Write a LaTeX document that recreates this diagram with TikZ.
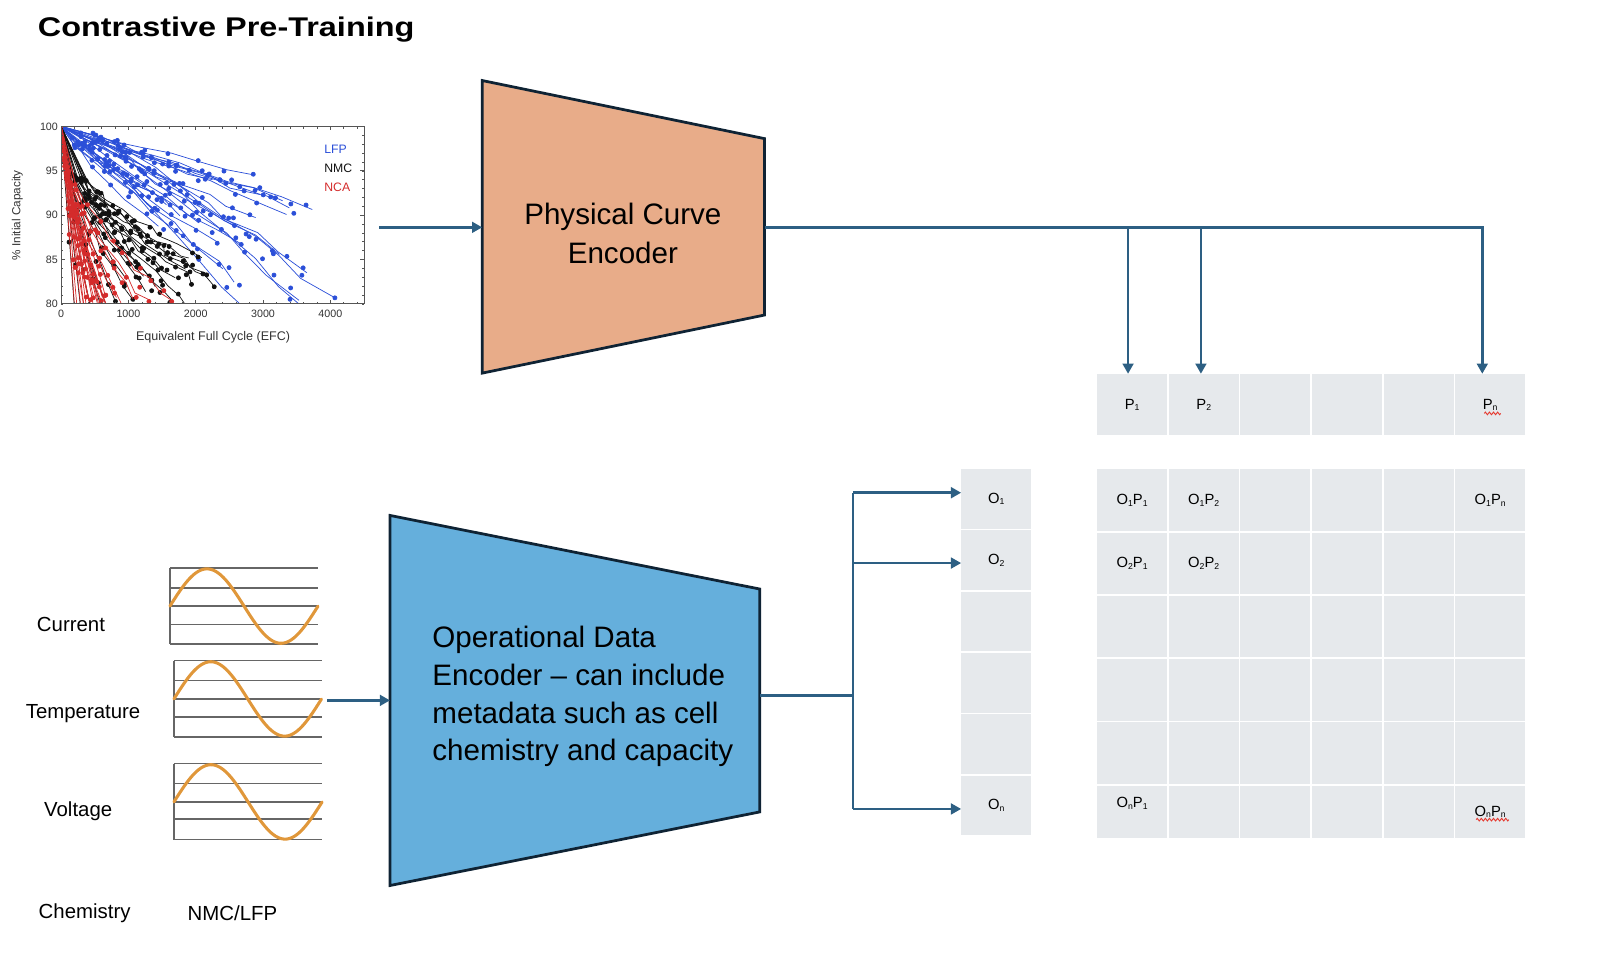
\documentclass[tikz,border=0pt]{standalone}
\usepackage{fontspec}
\setmainfont{Liberation Sans}
\usepackage{graphicx}
\usetikzlibrary{arrows.meta,decorations.pathmorphing}
\definecolor{arrowc}{HTML}{2D5F83}
\definecolor{encb}{HTML}{0F2334}
\definecolor{pcefill}{HTML}{E8AC89}
\definecolor{opefill}{HTML}{65AFDC}
\definecolor{cellg}{HTML}{E6E9EC}
\definecolor{wavec}{HTML}{E0973A}
\definecolor{gridc}{HTML}{666666}
\definecolor{lfpc}{HTML}{2B4FD8}
\definecolor{nmcc}{HTML}{111111}
\definecolor{ncac}{HTML}{D42B2B}
\definecolor{sqc}{HTML}{E5392F}
\definecolor{axc}{HTML}{555555}
\newcommand\fsz[1]{\fontsize{#1}{#1}\selectfont}
\newcommand\sbs[1]{\raisebox{-0.1em}{\fontsize{8.5}{8.5}\selectfont #1}}
\begin{document}
\begin{tikzpicture}[x=1pt,y=-1pt,
  arr/.style={draw=arrowc,line width=2.6pt,-{Triangle[length=10pt,width=10.5pt]}},
  conn/.style={draw=arrowc,line width=2.6pt},
  enc/.style={draw=encb,line width=2.7pt,line join=miter},
  cell/.style={fill=cellg,inner sep=0pt,minimum width=68.5pt,minimum height=60.3pt},
  ocell/.style={cell,minimum width=68.6pt,minimum height=58.5pt},
  celltxt/.style={inner sep=0pt,font=\fsz{14.5}},
  sidelbl/.style={anchor=base,inner sep=0pt,font=\fsz{20}},
  enctxt/.style={anchor=base,inner sep=0pt,font=\fsz{29}},
  ticklbl/.style={inner sep=0pt,font=\fsz{10.5},text=axc!60!black},
  gridl/.style={draw=gridc,line width=1.7pt},
  wave/.style={draw=wavec,line width=3pt,line cap=round},
  squig/.style={draw=sqc,line width=0.9pt,decorate,decoration={zigzag,segment length=4pt,amplitude=1.3pt}},
  dotline/.style={line width=0.7pt,mark=*,mark size=2pt,mark options={solid,fill=#1,draw=#1},draw=#1}
]
\useasboundingbox (0,0) rectangle (1567.5,949.5);

% title
\node[anchor=base west,inner sep=0pt] (title) at (37,35.5)
  {\scalebox{1.2}[1]{\fsz{26.5}\bfseries Contrastive Pre-Training}};

% ---------------- capacity plot ----------------
\begin{scope}[shift={(60,298)},x=0.066pt,y=8.7pt]
  \begin{scope}
    \clip (0,0) rectangle (4500,20);
    \pgfmathsetseed{11}
    \foreach \E/\C/\p/\n in {2800/94.4/1/7,3635/90.9/1/9,3385/91.1/1/8,3360/90.3/0.95/8,
      3200/91.9/1/8,2950/92.5/1/7,2820/90.0/0.9/8,4010/80.8/1.3/10,3610/83.8/1.2/9,
      3470/80.4/1.3/9,2760/79/1.2/8,3735/79/1.4/9,3210/85.8/1.1/8,2620/82.3/1.1/8,
      1485/88.6/0.8/6,2050/89.3/0.9/7,2300/86.8/0.9/7,1800/90/0.9/6,2425/84.1/0.9/7,
      2700/86.4/1/7,1600/91.3/0.8/6,1250/93.5/0.8/5,2300/93.8/1/6,1900/92.5/1/6,
      2550/88.6/1/7,1400/90.8/0.8/6}{
      \draw[dotline=lfpc] (0,20) -- plot[domain=0.15:1,samples=\n,variable=\t]
        ({\E*\t+0.03*\E*rand},{20-(100-\C)*(\t^\p)+0.3*rand});
    }
    \foreach \E/\C/\p/\n in {2350/82.2/0.55/12,2145/83.3/0.55/11,2075/85.3/0.5/10,
      1900/80/0.6/10,1650/80/0.6/9,1785/84.1/0.55/10,1885/85/0.5/10,1085/80.4/0.6/7,
      825/80/0.7/6,700/79/0.7/5,600/79/0.8/5,450/79/0.8/4,300/79/0.9/4,200/79/0.9/3,
      1450/82/0.6/8,1300/81.5/0.6/8,1200/83/0.6/7,2000/82.5/0.55/10,1550/84/0.55/9,
      950/82.5/0.65/6,1700/82.8/0.55/9}{
      \draw[dotline=nmcc] (0,20) -- plot[domain=0.15:1,samples=\n,variable=\t]
        ({\E*\t+0.04*\E*rand},{20-(100-\C)*(\t^\p)+0.35*rand});
    }
    \foreach \E/\C/\p/\n in {1635/80/0.6/9,1285/80.2/0.55/8,1100/80.5/0.6/7,900/80/0.6/6,
      750/79/0.6/6,700/79/0.7/6,650/79/0.7/5,600/79/0.75/5,550/79/0.8/5,500/79/0.8/5,
      450/79/0.85/5,400/79/0.9/4,350/79/0.9/4,300/79/0.9/4,250/79/1/4,200/79/1/3,
      620/80.5/0.7/6,480/80.5/0.8/5,820/81/0.65/6,380/81/0.8/4,560/80.2/0.65/6,
      680/80.8/0.7/6,420/80.3/0.75/5,330/80/0.85/5}{
      \draw[dotline=ncac] (0,20) -- plot[domain=0.15:1,samples=\n,variable=\t]
        ({\E*\t+0.04*\E*rand},{20-(100-\C)*(\t^\p)+0.35*rand});
    }
    \fill[ncac] (0,20) circle[radius=2.2pt];
  \end{scope}
  \draw[axc,line width=0.7pt] (0,0) rectangle (4500,20);
  \foreach \x in {0,200,...,4400}{
    \draw[axc,line width=0.5pt] (\x,0) -- ++(0,0.25);
    \draw[axc,line width=0.5pt] (\x,20) -- ++(0,-0.25);}
  \foreach \x in {0,1000,...,4000}{
    \draw[axc,line width=0.6pt] (\x,0) -- ++(0,0.45);
    \draw[axc,line width=0.6pt] (\x,20) -- ++(0,-0.45);}
  \foreach \y in {0,...,20}{
    \draw[axc,line width=0.5pt] (0,\y) -- ++(30,0);
    \draw[axc,line width=0.5pt] (4500,\y) -- ++(-30,0);}
  \foreach \y in {0,5,...,20}{
    \draw[axc,line width=0.6pt] (0,\y) -- ++(60,0);
    \draw[axc,line width=0.6pt] (4500,\y) -- ++(-60,0);}
\end{scope}
\foreach \v/\yy in {100/124,95/167.5,90/211,85/254.5,80/298}
  \node[ticklbl,anchor=east] (yl\v) at (57,\yy) {\v};
\foreach \v/\xx in {0/60,1000/126,2000/192,3000/258,4000/324}
  \node[ticklbl,anchor=base] (xl\v) at (\xx,311) {\v};
\node[ticklbl,font=\fsz{11.5},rotate=90] (ylab) at (17,211) {\% Initial Capacity};
\node[ticklbl,font=\fsz{12.3},anchor=base] (xlab) at (209,334) {Equivalent Full Cycle (EFC)};
\node[anchor=base west,inner sep=0pt,font=\fsz{12},text=lfpc] (legL) at (318,151) {LFP};
\node[anchor=base west,inner sep=0pt,font=\fsz{12},text=nmcc] (legN) at (318,169.5) {NMC};
\node[anchor=base west,inner sep=0pt,font=\fsz{12},text=ncac] (legC) at (318,188) {NCA};

% ---------------- physical curve encoder ----------------
\coordinate (pceTL) at (473,79);
\coordinate (pceTR) at (750,136);
\coordinate (pceBR) at (750,309);
\coordinate (pceBL) at (473,366);
\filldraw[enc,fill=pcefill] (pceTL) -- (pceTR) -- (pceBR) -- (pceBL) -- cycle;
\node[enctxt] (pce1) at (611,220.6) {Physical Curve};
\node[enctxt] (pce2) at (611,258.2) {Encoder};
\coordinate (plotOut) at (372,223);
\coordinate (pceIn) at (473,223);
\coordinate (pceOut) at (750,223);
\draw[arr] (plotOut) -- (pceIn);

% ---------------- operational data encoder ----------------
\coordinate (opeTL) at (382.6,505.6);
\coordinate (opeTR) at (745.3,577.8);
\coordinate (opeBR) at (745.3,796.4);
\coordinate (opeBL) at (382.6,868.6);
\filldraw[enc,fill=opefill] (opeTL) -- (opeTR) -- (opeBR) -- (opeBL) -- cycle;
\node[enctxt,anchor=base west] (ope1) at (424,635) {Operational Data};
\node[enctxt,anchor=base west] (ope2) at (424,672.5) {Encoder -- can include};
\node[enctxt,anchor=base west] (ope3) at (424,710) {metadata such as cell};
\node[enctxt,anchor=base west] (ope4) at (424,746) {chemistry and capacity};

% ---------------- input signals ----------------
\foreach \xo/\wd/\la/\lb/\lc/\ld/\le [count=\k] in {166.7/145.3/557/576.5/594.5/612.5/632,
   170.6/144.8/648/667.6/685.6/703.3/723.2, 170.6/145.4/749/768.6/786.6/803.3/823.5}{
  \foreach \yy in {\la,\lb,\lc,\ld,\le} \draw[gridl] (\xo,\yy) -- ++(\wd,0);
  \draw[gridl] (\xo,\la) -- (\xo,\le);
  \draw[wave] plot[domain=0:1,samples=90,variable=\t] ({\xo+\wd*\t},{\lc-36.5*sin(360*\t)});
}
\node[sidelbl] (lcur) at (69.6,619) {Current};
\node[sidelbl] (ltmp) at (81.5,704.7) {Temperature};
\node[sidelbl] (lvol) at (76.7,800.5) {Voltage};
\node[sidelbl] (lche) at (83,900.8) {Chemistry};
\node[sidelbl] (lnmc) at (228,903) {NMC/LFP};
\coordinate (sigOut) at (321,687);
\coordinate (opeIn) at (382.6,687);
\draw[arr] (sigOut) -- (opeIn);

% ---------------- cells ----------------
\foreach \i in {1,...,6}
  \node[cell] (P\i) at ({1110.5+70.25*(\i-1)},397) {};
\foreach \r in {1,...,5}
  \foreach \i in {1,...,6}
    \node[cell] (M\r\i) at ({1110.5+70.25*(\i-1)},{490.65+62*(\r-1)}) {};
\foreach \i in {1,...,6}
  \node[cell,minimum height=51.5pt] (M6\i) at ({1110.5+70.25*(\i-1)},796.25) {};
\foreach \r in {1,...,6}
  \node[ocell] (O\r) at (977.3,{489.25+60.17*(\r-1)}) {};

\node[celltxt] (tP1) at (P1) {P\sbs{1}};
\node[celltxt] (tP2) at (P2) {P\sbs{2}};
\node[celltxt] (tP6) at (P6) {P\sbs{n}};
\node[celltxt] (tM11) at (M11) {O\sbs{1}P\sbs{1}};
\node[celltxt] (tM12) at (M12) {O\sbs{1}P\sbs{2}};
\node[celltxt] (tM16) at (M16) {O\sbs{1}P\sbs{n}};
\node[celltxt] (tM21) at (M21) {O\sbs{2}P\sbs{1}};
\node[celltxt] (tM22) at (M22) {O\sbs{2}P\sbs{2}};
\node[celltxt] (tM61) at (1110.5,788) {O\sbs{n}P\sbs{1}};
\node[celltxt] (tM66) at (M66) {O\sbs{n}P\sbs{n}};
\node[celltxt] (tO1) at (O1) {O\sbs{1}};
\node[celltxt] (tO2) at (O2) {O\sbs{2}};
\node[celltxt] (tO6) at (O6) {O\sbs{n}};
\draw[squig] (1456,405.5) -- (1472,405.5);
\draw[squig] (1448,804) -- (1480,804);

% ---------------- connectors ----------------
\coordinate (j1) at (1106.5,223);
\coordinate (j2) at (1178,223);
\coordinate (j3) at (1454,223);
\draw[arr] (pceOut) -- (j3) -- (j3 |- P6.north);
\draw[arr] (j1) -- (j1 |- P1.north);
\draw[arr] (j2) -- (j2 |- P2.north);

\coordinate (opeOut) at (745.3,682);
\coordinate (bm) at (836.6,682);
\coordinate (b1) at (836.6,483.3);
\coordinate (b2) at (836.6,552.3);
\coordinate (b6) at (836.6,793.5);
\draw[conn] (opeOut) -- (bm);
\draw[conn] (b1) -- (b6);
\draw[arr] (b1) -- (b1 -| O1.west);
\draw[arr] (b2) -- (b2 -| O2.west);
\draw[arr] (b6) -- (b6 -| O6.west);
\end{tikzpicture}
\end{document}
